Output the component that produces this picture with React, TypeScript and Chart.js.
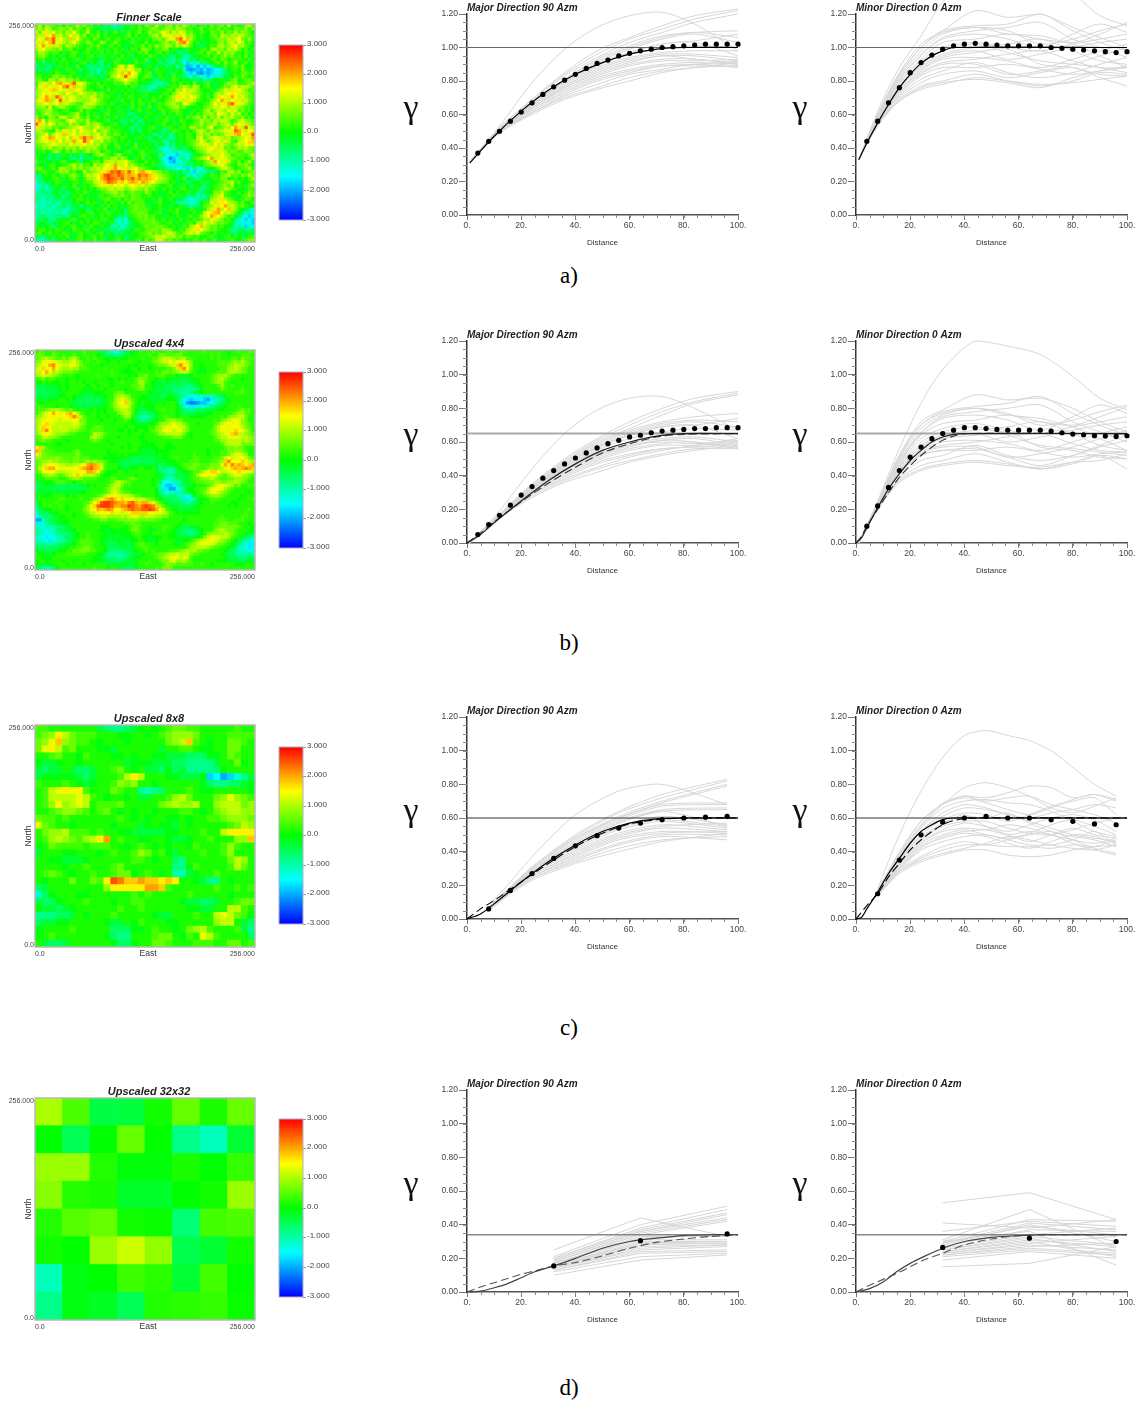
import React, { useEffect, useRef } from "react";
import { Chart, registerables } from "chart.js";
Chart.register(...registerables);

const FONT = '"Liberation Sans", Arial, sans-serif';
const SERIF = '"Liberation Serif", "Times New Roman", serif';

// Field values as one letter per cell: a=-3.00, m=0.00, y=+3.00, in steps of 0.25. Top row first.
const GRID_A_FINNER = [
"nqmponmn lomnqnom nkmlhjgf ihkjmlnk onmqnmop mpnqomnl mnlomnom qmnlmpqn",
"oqnrpmnp onqmonlp mjkihkig jhljmkom mnpomnqp nqpomnkm olmnmomn mlonnpmo",
"qnrtqsop nqpsomnq mlnkmjln kmjnlmok mpnoqsqo rpsqnomk nmlonmpm onqnponl",
"prqtsvqr opsqrnpl nmolnkmk ljmolnkm lnpqnsrt qtqsopnl mlknomqp oqprqonm",
"qsrvuxrs qpuqsomn lomkmnlm nlmknjml mknopnqs rvxsuqnk mklmnopo qprsonpm",
"rtqsuxsr qoqspnmp nlmpnkmo mkljnmkl nlmknopn oqvwtolm kjlmkopn qrpsqmnl",
"qsvrtqrp nqponmkm nmomkmnl mkjlkmmo lnmpnoqp nqprqnlj iklnmpqo prspqnml",
"prsqponq mnolmkln mlnmjmln kmjlnmkp onlnmopk mjkimlkl mnlpqopn qpromnkm",
"nqpomnnl mkmomlmn kmjnlmkn mlkmjlnm olkmnkmj ljhjikjm nlonmqnp opnmlnmk",
"mopnlmkm jlmnkjlm nkmimkmj lnkmilkm lnmjkmji hkjhgikl kmnlomnp nomnlokm",
"lmnkljmk nlkmnjkm jlkimljm nkmkjmlk njkmjkhi gjhegjhk mlkmnlon lmnmmlnk",
"jkhjkilm kmljkmnk jlihkjln mkljlnkm ijklhjig hjiecfge ihjlmnlo mnplmnkm",
"hkjihkjm lmkjnlkh ihjgkhlm qrosrmlk jmlijkhj kgihbceb dcegikjn lmnmolkm",
"khjhilmk jnmljhkj hifhjkmp rtqsropl mkjnlmki ljkfbabc bdbcdegh kmnlomkm",
"kljkmlnm lkmnkjlj hjgkimop rurvsrnl mnkjmlkj imkhfcdb acbcedfi kkmlnomn",
"mnkmlopn omnlmjkm ijkhjlpq sqxtsqlm onjlmkjl nkjigeig dfcegfhk jlnmomlm",
"nomlqpnq ropnolmk lmjkmnmo prsqpolm lkihjmkj nmljkjhi kfhiklmj knplmnom",
"mqrtpsuv qtuxrsqn mlnkmlkn mnqomnkl jkhgfhgl mknlmloj kmnlkjlnq opmmnoqp",
"nstqsrts vxtuqrpm lkmnlmkl mjmlnmjh igfgjikm nmoqpnqp lmnkjlmo nqsprqpn",
"oqrstuqs rtqtsrom nlkmjnlm kmlmjkim hgijklmn lqpsqrqo mlkmjnpr qtrsqomn",
"pqsrsrsq psrpqsqp oqnomlmk jlmkmlkj mlkjlmnl oqsrtqpo nlmkoqpr stsrqpom",
"orsvtqxu rqsrpoqp rqnomnlk mjlnmklm jkmlnlmo qrtsqsrp mlnkpqsr tvsqrpnm",
"qstvuqsx tqsrpqop qspnmlkm jnlkmlnk mlnmklno psrqtrqn mlmoqsvt qsrtqrom",
"pqrsqtsp qrponmpq rqonmlnk ljmknlmn kmljnmop qonsrpnl kmnpsqrt vxtsrpnm",
"opqnrmoq pnmlnoqp onlmkmlj mkljnlmk jnkmnlmo pqnomlkm lnoprqsr ptqpomnl",
"mnopqnml mnklmoln mlkmjnlk mjkiljnk mljkmnlm nomlkjml moqnprqp sqrnomnl",
"nmoqpnom lmnoqmln kmjlmnkl jmkhijlk jmkljnkm lnmkjmln mopqnsrq orpqmnlm",
"pmnlpomq ronpqnmo lmnkmjln kmiljhjk mlkjmlnj mkmlnmop nqmpornq pqonpmnk",
"tvsnqpon mqsropnq mnlkmnjl khjigkhi ljkmlmnk jlnmlkmn qopnqprq pmnqrpon",
"xtrpsqnp onqopmnq opqnlkmn kjiklhji kkljmnkl mjlnlmno qnopqnpq rnqsrqpn",
"tqrpqnom nopqrsqp oqrpnoml mkljhijk lmnjkimn lkmnlqpn onqsmnoq psvtqxrq",
"pqonmlqp rtqspsrq psnpqomn mkljikhj lmkljhij nmlkmlnq rpnqopqr srxvtqsr",
"opqsnqsr uqrsqtqr pqsoqnmo nlmkjlkm ljihjikg ikmlnmlp qoqnpnoq rtuvsrtx",
"nqstvusr qsptruxu vqsrpqnm lnmkljmk jiklhjig hkjlnmlq rnpqsrqp qnopqsrv",
"pqrsqtqs ptqvrsxu sqprnomn kmlmkjlk lmhjkhgj ikmlmnop sqnprsqt qnmqrstu",
"nopqrsrq qpsqrtsq rpqnomln mkmjlnkm ljkiljfi hkjlmnoq rtrpsqrp onprqstr",
"mnpoqnop nqopnqoq pqnmolkm njlkmnjl mkljgfeh gikhjlno pqrstqrn omnqpqon",
"kmnlmopn lompnmoq noplmnkj lkmnjlmn kmjihfde ghfhikln opsrqtrq npomnpon",
"ljklijhj mlhkjhik lnoqnmln qmlkjlmn mkljnhfe dcfgdhjl mopqrqsq pmnonmoq",
"mlkjhkij klihjgki jlmkonpq npolkmln jmlkheda ceghfimn pqsvqrsr ponmnlmp",
"njmkljkm njklmhkl mnolpqrp qrspnmkl nlmkjfec bdfghjkm lnpqvsrt qnmolnpm",
"mlkjmnlk mnoqnpmn lqoprsqv rqspqomn lkmjihed fgehihjm lnopqrsq nmlonpnk",
"nomkmnlq ponqopno qprqsrtv srtqrspo nmlkjihg fedgceid fhklmoqr pnlmnoqm",
"kmnmlknp opmnlkqn opqrtuxw yvuxusuv tsqpomnk jikgifce gfihjknm pqnplmno",
"jhkmlnkm nmopnkoq qrsuxywv xwuvutxv wutrqonm ljkjfgeh gjlnmkop qnompnqo",
"ghjlkmnj mlnomkmp pqsuwyxw vxuvxuwu vutsqpom ljknjkhg ikljnmop lmnkmlnq",
"fhikjlnm kjlmnkmn nqrtuxwv tusuvutv utsqponl mkljhjlk mjilkmno pqmnlkmn",
"efhgjkml jmlnkjml noqsrtqs rsqrstqr pqonmkmn lkjmlijk jhklmnop nqlmkmnp",
"eghfhikj hkljnlmk mlnpoqrp rqoprqpo qnomknlm jkmnljkm hijlmnoq pnmkljnm",
"ggiihjli khjlmknm kljmnopq nomnonnm pnlmkjln kmlkmjlh ijklpoqn mlknlmon",
"hhgghikj hijmlnkj lkmnlmno npnmonnl mnkljkml njmkhijf hgjnpqsn mkjlmnpo",
"igfhghji hkjlmnkm lkjmnokm nlnmonnm lkmjnlkm ljkhgefg hijpqrtq onlkmonl",
"hgfggigg jhikmlkn lmjkmlnm knlomnnn kljmnklk jhgfgefg kmnsqrts qpomnkln",
"fgfghfgh jgijkhkj mlkmjnlm kjlmnonn mjklmkl jlkmjigh iknoprts vqrpnomlk",
"ggghfghh gfhijklh jkmlnkjm lkimnonn nmlkmjkm lnjlkmjl kmprtvqs uqpmkjgf",
"hhfgghfh egikjlkm nlkmjnmk jlhmnnoo nlkmnkjl mnlkjlnk mqstuvsq rpnkjfge",
"ghjgghih jgjlkmnk mjlnkmlk iihjmnon omnlkjml kmjlmnkm prsvtsqo mnkjfecd",
"ihjkhgik jlmnjkln kmlmnjlh fgejkmnn onomlnkm jlnkmlnm nqprtqom nlhfecdc",
"jklihkjl mnkjlnkm lnmkjlmh egfhjlmn nnonmkmn lmkjmnlq psqrpnon mkgfdfec",
"mkjlmhjk mlmnlkmj nlkmlkgf hegijklm onnoonml mkjnmqrs uqpnomnl kjfhfcfe",
"lmnkjlnm kjlnmkmn lmjkhjhi ghijknml nnoonqpo mlnmpqrt sqpnomlk mhgijhgi",
"mnlmnkml nmkjmnlm jkmnkjlh jikkjlmn opnonpqr pnmoqrqs onmlnkml jihkjkik",
"jihjkmkm lnkjmnlk mnlmjkli mlhjklmm noprqsqp qnpmonmn klmnjklm nkmlijmn",
"hfgijhkl mkjlmnlm knlmjlkm nkjlkmnl omnqrpno mnmlmknm lnkmnlkj mnlkmnoo"
];

const GRID_B_UPSCALED_4 = [
"mnnmmnmm lmmmmmnm mmmkjhgf gijkllmm mmnmmmnn mmnnmmmm mnmmmmmm lmmnmmnn",
"nonmmonm nmmnmmnm mmlkjijh iikklmmm mnmmoonn noommmmm mmmnmnmm lmmmnnnm",
"nopqponn onpqommn mnmmllkl kllmmmmn mmnnpqqq popqnnmm mmmnmnmm mnnmonnn",
"oprrsrrq ppqrpomn mmnmmlmm lmmnmmlm mmoopqqs qsrsqomm mmmmmnnn nopoqonm",
"pqrsuvsr qqsrqonm mmmlmmmm mmmlmlmm mlmnoopq rtvsrpmm lmmmmnnn opqqponm",
"qrtrsusq ppqppnnn mmmmnmmm mmllmmlm mlmmmmnn oqtvsomm llmmmmnn ppqponmm",
"qqsuspqp ooonnmmm mmmmmmnm mllllmmm mmmnmoon opqqqnml klmmmnnn pqqpoomm",
"pqrqqpon mmnmlmmm mmnmmmnm mmmlmlnn ommnnnmm mlkkklmm mmmnoppq onmmmmmm",
"mnomnnmm mlmmlmmm mmmmmllm lmlmmnpo nmmlmmll kkkkkkll mmmnopqo nmmmlmmm",
"llmmmllm mlmmmmlm mlmmmmlm mnmmmnpp nmlkkjkk jkjjjkkl mmmnoppn mmmmmmmm",
"kkjkkkll mlmmmmml mmlmmmlm mmmmnnop mmlkkkjj jjjiiijk lmmmmnpn mnmmmmmm",
"jjjkkjkl mlmmmmlk lmmmlmmm mmlmmnoo mmkkjkjj iiiihhij kmmmmmon mmmmnmmm",
"jjjjjjkk lmmmmlkk klllmmmn oommmmmm mlkkkjjk jihhhijk lmmmmmmm mmnnnmmm",
"jkjjkkkl lmmlkkkj jkkklmmo pqpommml lkkkjjkl kjihgffg fhgghijl mmmmmmmm",
"kkkklklm mlmlkjjj jjjkkmmp qrqpnmll lkkkkkll lkhfedee fdcehgij lmmmmmmm",
"mllmmmmm mmkkjjjj jjjkkmnp rstqomlm llkkmlmm mkgecbbc ddefgijk lmmmmmmm",
"mnmmmmlm mmlkkjkj kkkklmnp qrrqnmkk lllmmmmm mljgfeeg fghiikkl mmmnmmmm",
"mnnoppqp onomlmmm lmlllmmo pqqpnlkj kllmmnmm mlkiihij ijjkkllm mmmnonnm",
"moqrsusr stusqnml mmlmlmmm opqqnkji ijjlmmmm mlkjjjjk kkllmmmm mnoppnnm",
"opqrsrsr sstvtqnm mmlmmlmm mnppmjhh giikmnnm mlmmmlll llmmmmnm oppqqomm",
"pqrssrrq rrrsroom mmmlmmml mmnmlkjh ijklmmop poommmmm mmmmnmop qrsrpomm",
"pqstrrqq qqqrrpom mmmmmmmm mmmmlkkk kllmoppq rqqonmml mmmmnoqr srsrponm",
"prtsrqqr qqqqqonm mnonmmmm mmlmmlll lmmopqrr srqqommm mmmmoqsr rssrqonm",
"pqtvsqqq qqpponnm nnnnmmmm llmlmlmm lmnoprsr qrrpommm mmmnoqrs rstsrqom",
"oqrsrqpp ponnmmmm nqppnmmm mmmlmmml mmmnppqq qqqomlmm mmmnopqr rtuqqpon",
"noqqppon mmmmmmmm pqpommmm lmmmmmll mmmmmnnn ooommlmm mmmmnpqq srsrqqpo",
"mnonnmmm mlmmmmmm nonmmlmm mmmmmmml lmmmmmmm mmmmmmmm mmmmnnpp qqqqpqpo",
"mmmmmmll mmmmmmmm mmmmmmlm mmmlmmml lllmmmll mmmmmmmm mmmmmmnp qqqqoooo",
"stpnmmmm mmmmmmmm mmmmmmmm mlmlmmll lkllmmll lmmmmmmm mmmmmmmn oopoommm",
"utonnnmm mmmnommm mmmmmlmm mmmmmmlk kkkllllm mmmmmmmm mmlmmmnn oopponmm",
"rqoonnnn nnnnonmm mmmmmlll mlmlllkk kkklmllm mmmmmmnm mmlmmmnn oqrrqpmm",
"ppoooopo nnnoonnn mmmmlkll llkkjjjk jjjkkllm mnmmmmnn mmmmnnoq sqrrsqon",
"noppqppo oonoonop opoonmll kkjjjijj jjjkkkll lmmmmnnn mmmnnopt vssstrqp",
"noqrssrq qppqqrsu vutqnmmm kjjjkkkk kkkkjjkk llmnnnoo nnnoooru svtutstu",
"nqstuusr rsrsstuv wutrnmmm lkkkllmm llmkijih iklmnoon nnopopqr stutuvut",
"nosrsrqq qrrrrssu utsomlll mmlmmmmm mmmkjhhg hjkllmnn oqsttsqq rrstsrrq",
"mmopqpon opqrtsqq qpomllmm mmmmmlmm mmmlkjih ikjkkmnq ssrsrpon pqrrqpon",
"lmmnnnnm mnopponn nnmmmmnn mmmnonmm mmlmkigg hjjkkmnn oppqponn ooppponm",
"kklllmnn nmmlmmnm mmmmmmnp qponmmmm mmlmjfff ghhkkmmn noooppoo ppqponmm",
"jjklkkjj jjjjjkkl mlmmmnpq qomnmmmm mmlmhfdd egijkklm mmnoqrsr qpnommnn",
"jkkkjjkj jkkkjjjk mmmmnoqq pnmmmmmm mmmlheec cfgiklmm nnprssrp onmmmmmm",
"kkkklkkk kkkkkllm mmmmnoqr ponnmmmm mmmlihfg gehikllm noqrsqpo nmmmmmlm",
"lmlllmmm mlmlmmmm mmnoqrrs rqqqpnnm mmmlkihi jhhgfhlm mnopppon mmmmlmmm",
"kmmmmmmn nmmmmnmm npqstuvt stsrsqrq ponmlkjk iiieefhk llmnnnmm mmmlmmmn",
"jlmmmmnm mmmmmmnn pstwxxwv uutvwutu utrpnmkj jjiihijk lmmnmmmm mllmmmmm",
"ilmmnmmn mlmmmmnp rtwxxxwu uvvxwvuw xwvtpnmk kkjjjjkl mmmmmmmm lmlmmmmm",
"hjkllmmm mlmmmmop rsutuvus stuvwvvw wxwusqnm lkkkkkkl mmmmmmmm mmmmmmnm",
"gijjkllm mmmlmmno qqrsrstr rqrstttt tsrrrqpn mlmlllll mmmmmmmm mmmmmnmm",
"fhiiikkl lmmlmmmn oppqqppp pqpqrrqp qqqppoom mmmmmmmm mmmmmmnm mmmmnnmm",
"ccgijjkl llmmmmmm mnnoonnn ooopopoo ooonnmmm mmmlmmmm mmmmmnnn mmnnnmmm",
"egghjjkk llmmmmmm mmmmmmmm mmnnonnm mmmmmmmm mmlmmmmm mmmmnnoo nnnmmmlm",
"hffhghii jkkmmmmm mmmlllmm mmlmnonm mlmmmnnm mlkjjkkl mmmmnooo ooonmmml",
"iggfggij jkklmmmm mmmlkkll lllmoonm mlkmmnmm lkjiiijk lmmmopqp oonmmmll",
"ihgffgih iijklmmn mmmmlkll klllmnnm llmmmmml lkjjihij lmoppppq ponmmlkk",
"hffeffgh ijjklmmn mmmllkkk kklllmnl lklllmml lkkkkkkl moqrrrqq pnmmkjih",
"ggffefgg hijkmnnn nmmlkkkk lkkkllmm lkklmmmm mlkllmnp qrrsrqpo nmljihhf",
"ihihhhii jkklmnnn nmmlkjjj kkkjlmnn mmmlmmmm lkkmnopq rrrrqoon mlkihfee",
"jijijjjk klmmnnoo nmmmljjj jkkjkmmn nmmmmmmm mmmmnppq qqponnmm lkjggfef",
"lkkjjkkl lmmonooo nnmmljii iijjklmm nmnmmmmn nnopqpqo onnmmmml kjihggfg",
"mlkkklmm mnnnnnnm mmlljhhh hhijjkkl mmnnoopq qrqqqonn mmmmmmlk jjhhhhig",
"mmlllmmm mmmmmmmm mllkjiii hhijkllm mmmnopqr srqrqnmm mmmmmmml kjjiiijj",
"lmmlmmmm lmmlmmmm llkljjjj ijkkkkmm mnmmnooq rppqonmm mmmmmlll kkkkjkkk",
"lkkkkkmm mlmmmmlm mmmmmkkk kkkkjlmm nmmmmnpo onnnnnmm nmmlmmmm mmlllmmm",
"kjhhhjlm mmmmmmmm mnmmmlmm lkjjjlmm mmmnmooo mmmmmmmm mmmmmmmm mmmmmmmm"
];

const GRID_C_UPSCALED_8 = [
"nnmmmmmm mkjiijkl mlmnoonn mmmmmnmm",
"nopsqonn nmmmllmm lmnopppo mmmmnnnn",
"oprtponn mlmmmlmm mmmopqtn mlmmoonm",
"orsqnomm mllkmmmm mmkmmnnm llmmoomm",
"mmnommln mmmllmlm mllkkkjj jllmonmm",
"lkklmmlm mmmmmkll lkkkjjii iikmmolm",
"kjkkmkjj kmmnomlm kkjljkii iijlmmmm",
"klllllkj kmmmnqsq mmmllkkk lefdegik",
"nmmmnmlk lmmnpopm mlmmmmmm ljiijjkl",
"mnqrsrsn mmmonmmi hijmmmnm llmmmmml",
"mnqqqqrq nmlmmlmk kmmnpqom mmoprpon",
"mnpspqrq mnnnommm mmopqppq mmpqqqop",
"mmnoppon mnomlmlm mlmmmnnm lmopqqpp",
"onnmnmmm mmmmnmlm lmmllmlm mnnopppo",
"ronmmlmm mmmlmmmk lmllkmlm mmmmnoqp",
"moppqnnn mnmmllkk kkkllmmm nmmqssss",
"mnpqponp qsumnmml lmmlkklm mnmmmppt",
"lmonnnnm nnnmmlmn mlmlmmln mmmnpnmm",
"kmmmllmm mlmnmmnp omnlkmmm nmmnpmmm",
"mmllkkkl mmmmmmnn mlmmjimm mmmmoqpm",
"mmmmlmmn mmmnommm mmmmiiln mmmmnqom",
"mnonmlmm nmmnoolm nmlmhhkl mmnmmmmm",
"mlmmmomm onswvttu ttstsmml kiimlmmm",
"jkmmmmmm mmpsssss uutnmmmm mmnmmnmn",
"gjlmmmll mmmmmmnm nmmmmmnm mmmmlmmm",
"kjjlmmmn mmmlmmnn mmmmmlkk jjkmmnoo",
"lkkjklmm mmmmnmmn mmmmmmll kkmmqqnm",
"iiijjkml mmmnmmmm mlkkmmmn mmqrqonl",
"jkkllmmm mmlkkmln mmmllmmm mmpqqmkj",
"lmmmmnmm mmmjjjll mnmmlmop qnmmmnki",
"lmnmmmmm mmljiimm mnoomlnm rqnmmmmj",
"mkjjkmmm mmmljjlm moonmmmn nnmmoomn"
];

const GRID_D_UPSCALED_32 = [
[1.0, 0.45, -0.4, -0.35, 0.1, 0.6, 0.15, 0.6],
[0, -0.5, 0, 0.6, 0, -0.8, -1.1, -0.3],
[0.9, 0.9, 0.2, -0.05, -0.05, 0.15, 0, 0.3],
[0.8, 0.2, 0.15, -0.25, -0.25, 0, 0.1, 0.9],
[0.2, 0.5, 0.6, 0.1, 0.05, -0.7, 0.4, 0.45],
[0.1, 0, 0.9, 1.2, 0.85, -0.45, -0.3, 0.1],
[-1.1, -0.1, 0, 0.35, 0.25, -0.3, 0.4, 0],
[-0.8, -0.1, -0.2, -0.5, 0.2, 0.25, 0.3, 0.05],
];

const COLORBAR_TICKS = [-3, -2, -1, 0, 1, 2, 3];
const COLORBAR_LABELS = ["-3.000", "-2.000", "-1.000", "0.0", "1.000", "2.000", "3.000"];
const COLORBAR_RANGE = [-3, 3];
const COLOR_STOPS = [-3, -1.5, 0, 1.5, 3];
const MAP_AXIS_LABELS = ["0.0", "256.000"];

const LAGS_MAJOR = [1, 12, 24, 36, 48, 60, 72, 84, 100];
const LAGS_MINOR = [1, 8, 16, 24, 32, 44, 56, 68, 80, 90, 100];
const LAGS_C_MAJOR = [8, 16, 24, 40, 56, 72, 96];
const LAGS_C_MINOR = [8, 16, 24, 32, 40, 48, 56, 64, 72, 80, 88, 96];
const LAGS_D = [32, 64, 96];

const A_MAJOR_REALIZATIONS = [
[.32,.53,.79,.99,1.12,1.19,1.21,1.14,.98],[.32,.52,.69,.85,.98,1.06,1.13,1.19,1.23],[.32,.52,.69,.84,.96,1.05,1.11,1.17,1.22],
[.32,.52,.68,.83,.94,1.03,1.09,1.15,1.20],[.32,.51,.67,.81,.93,1.01,1.07,1.09,1.10],[.32,.51,.67,.81,.92,1.00,1.06,1.09,1.06],
[.32,.51,.66,.80,.91,.99,1.05,1.08,1.03],[.32,.51,.66,.79,.90,.97,1.02,1.04,1.08],[.32,.51,.66,.79,.89,.96,.99,1.01,1.00],
[.32,.50,.65,.78,.88,.94,.97,.98,.98],[.32,.50,.65,.77,.87,.93,.96,.96,.94],[.32,.50,.65,.77,.86,.92,.95,.95,.92],
[.32,.50,.64,.76,.85,.91,.95,.93,.91],[.32,.50,.64,.76,.84,.90,.93,.93,.90],[.32,.50,.64,.75,.83,.89,.92,.92,.93],
[.32,.50,.63,.74,.82,.87,.90,.91,.90],[.32,.49,.63,.73,.81,.86,.89,.89,.89],[.32,.49,.62,.72,.80,.85,.89,.90,.92],
[.32,.49,.61,.71,.78,.84,.87,.90,.88],[.32,.49,.61,.70,.76,.82,.86,.88,.91],[.32,.49,.60,.69,.75,.80,.85,.88,.89],
[.32,.50,.66,.80,.90,.97,1.02,1.03,.95],
];
const A_MINOR_REALIZATIONS = [
[.33,.62,.88,1.07,1.27,1.45,1.5,1.5,1.33,1.19,1.13],[.33,.60,.85,1.02,1.10,1.22,1.18,1.20,1.12,1.06,1.00],[.33,.60,.84,1.00,1.10,1.13,1.14,1.20,1.10,1.03,.98],
[.33,.59,.83,1.00,1.09,1.12,1.10,1.02,1.05,1.10,1.14],[.33,.59,.82,.98,1.08,1.12,1.08,1.07,1.03,1.08,1.15],[.33,.58,.81,.96,1.06,1.10,1.12,1.15,1.05,1.00,.94],
[.33,.58,.80,.95,1.05,1.08,1.05,1.00,1.08,1.14,1.09],[.33,.58,.79,.93,1.03,1.05,1.08,1.05,1.02,.95,.88],[.33,.57,.78,.92,1.00,1.03,1.00,.98,1.02,1.05,1.08],
[.33,.57,.77,.90,.98,1.02,.97,.92,.90,.88,.85],[.33,.56,.76,.89,.96,1.00,1.02,1.05,.98,.92,.90],[.33,.56,.76,.88,.95,.98,.93,.96,1.00,1.03,1.05],
[.33,.56,.75,.87,.94,.97,.99,.90,.88,.84,.83],[.33,.55,.74,.86,.93,.94,.92,.88,.93,.98,1.02],[.33,.55,.74,.85,.91,.93,.96,.98,.92,.88,.88],
[.33,.55,.73,.84,.90,.90,.84,.86,.90,.95,1.00],[.33,.55,.72,.83,.88,.88,.90,.87,.84,.86,.88],[.33,.54,.71,.81,.86,.91,.85,.82,.85,.90,.94],
[.33,.54,.70,.79,.84,.86,.82,.85,.88,.82,.77],[.33,.54,.69,.77,.80,.84,.80,.77,.80,.85,.84],[.33,.54,.68,.76,.79,.81,.79,.76,.82,.86,.89],
[.33,.53,.68,.75,.78,.82,.80,.78,.79,.81,.83],
];
const B_MAJOR_REALIZATIONS = [
[0,.19,.44,.65,.79,.86,.87,.80,.67],[0,.17,.35,.50,.62,.72,.80,.86,.90],[0,.17,.35,.49,.61,.70,.78,.84,.89],[0,.17,.34,.48,.60,.68,.76,.83,.88],
[0,.17,.34,.48,.59,.67,.72,.75,.77],[0,.17,.33,.47,.58,.66,.71,.73,.72],[0,.17,.33,.46,.57,.65,.70,.72,.69],[0,.17,.33,.46,.56,.64,.69,.70,.74],
[0,.16,.32,.45,.55,.62,.66,.68,.67],[0,.16,.32,.45,.54,.60,.64,.65,.65],[0,.16,.32,.44,.53,.59,.62,.63,.60],[0,.16,.31,.44,.52,.58,.61,.62,.58],
[0,.16,.31,.43,.51,.57,.61,.60,.57],[0,.16,.31,.42,.50,.56,.59,.60,.56],[0,.16,.30,.41,.49,.55,.58,.58,.60],[0,.15,.30,.40,.48,.53,.56,.57,.57],
[0,.15,.29,.39,.47,.52,.56,.57,.59],[0,.15,.29,.38,.45,.51,.55,.58,.62],[0,.15,.28,.37,.44,.49,.53,.56,.56],[0,.15,.27,.36,.42,.48,.52,.55,.58],
[0,.15,.33,.47,.57,.64,.69,.70,.62],[0,.15,.31,.43,.52,.58,.60,.59,.61],
];
const B_MINOR_REALIZATIONS = [
[0,.25,.56,.83,1.03,1.20,1.17,1.12,.99,.86,.79],[0,.24,.52,.72,.79,.88,.85,.86,.80,.72,.66],[0,.24,.52,.70,.78,.81,.83,.87,.77,.70,.64],
[0,.23,.51,.70,.77,.80,.77,.70,.73,.78,.82],[0,.23,.50,.68,.76,.80,.76,.74,.70,.75,.81],[0,.23,.49,.66,.75,.78,.80,.82,.72,.66,.60],
[0,.23,.48,.65,.74,.76,.73,.67,.75,.82,.77],[0,.22,.47,.64,.71,.73,.76,.72,.69,.62,.55],[0,.22,.46,.62,.68,.71,.67,.65,.69,.72,.75],
[0,.22,.45,.60,.66,.69,.64,.58,.56,.54,.52],[0,.22,.45,.58,.64,.67,.69,.72,.65,.58,.55],[0,.21,.44,.57,.63,.65,.60,.63,.67,.70,.72],
[0,.21,.43,.56,.62,.64,.66,.57,.55,.51,.50],[0,.21,.43,.55,.60,.61,.59,.55,.60,.65,.69],[0,.21,.42,.54,.58,.60,.63,.65,.59,.55,.54],
[0,.21,.41,.53,.57,.57,.51,.53,.57,.62,.67],[0,.21,.41,.52,.55,.55,.57,.54,.51,.53,.54],[0,.20,.39,.49,.52,.58,.52,.49,.52,.57,.61],
[0,.20,.38,.46,.49,.53,.48,.44,.48,.52,.44],[0,.20,.37,.44,.47,.49,.47,.44,.47,.52,.50],[0,.20,.36,.43,.46,.48,.46,.45,.48,.49,.53],
[0,.21,.42,.52,.55,.56,.51,.46,.52,.58,.64],
];
const C_MAJOR_REALIZATIONS = [
[.08,.22,.37,.62,.76,.80,.68],[.07,.19,.31,.50,.64,.74,.83],[.07,.19,.31,.49,.63,.72,.82],[.07,.19,.30,.48,.61,.70,.80],[.07,.18,.30,.48,.60,.69,.79],
[.07,.18,.30,.47,.60,.68,.69],[.07,.18,.29,.46,.59,.67,.68],[.07,.18,.29,.45,.58,.65,.66],[.06,.18,.29,.44,.57,.64,.65],[.06,.18,.28,.43,.55,.61,.56],
[.06,.17,.28,.43,.54,.59,.55],[.06,.17,.28,.42,.53,.58,.54],[.06,.17,.27,.41,.51,.56,.53],[.06,.17,.27,.40,.50,.55,.57],[.06,.17,.26,.39,.49,.54,.52],
[.06,.16,.26,.38,.48,.52,.51],[.06,.16,.25,.37,.47,.51,.52],[.06,.16,.25,.36,.45,.50,.50],[.06,.16,.24,.35,.44,.49,.47],[.05,.15,.24,.34,.42,.47,.49],
[.05,.15,.23,.33,.40,.46,.51],[.06,.18,.29,.44,.57,.64,.55],
];
const C_MINOR_REALIZATIONS = [
[.18,.50,.76,.96,1.09,1.12,1.09,1.06,1.00,.90,.80,.73],[.17,.40,.58,.69,.73,.72,.75,.79,.78,.72,.74,.71],[.17,.39,.58,.68,.78,.81,.78,.73,.66,.63,.67,.72],
[.17,.38,.56,.68,.73,.70,.72,.73,.68,.65,.62,.57],[.16,.38,.55,.68,.72,.69,.65,.62,.66,.71,.74,.70],[.16,.37,.54,.66,.70,.71,.69,.68,.64,.58,.52,.49],
[.16,.36,.52,.63,.68,.66,.62,.60,.63,.65,.68,.66],[.16,.36,.52,.61,.66,.65,.62,.58,.54,.50,.48,.46],[.16,.35,.50,.59,.63,.62,.58,.62,.67,.70,.72,.62],
[.16,.34,.48,.57,.61,.60,.63,.57,.52,.49,.47,.43],[.15,.33,.47,.55,.58,.58,.54,.51,.50,.53,.57,.60],[.15,.32,.46,.53,.57,.55,.52,.56,.60,.62,.59,.52],
[.15,.32,.45,.52,.54,.53,.56,.54,.50,.47,.45,.48],[.15,.31,.44,.50,.53,.50,.48,.51,.56,.59,.55,.50],[.15,.30,.43,.48,.51,.49,.45,.42,.46,.50,.49,.45],
[.15,.29,.41,.46,.49,.50,.47,.44,.44,.47,.52,.44],[.14,.29,.37,.43,.46,.44,.47,.50,.52,.47,.42,.39],[.14,.28,.36,.41,.44,.44,.43,.43,.42,.44,.43,.44],
[.14,.27,.34,.38,.41,.41,.38,.37,.38,.41,.43,.47],[.14,.28,.35,.39,.42,.45,.49,.47,.44,.42,.41,.44],[.15,.30,.42,.49,.52,.53,.50,.52,.50,.45,.41,.38],
[.16,.35,.49,.56,.62,.55,.50,.46,.50,.54,.50,.48],
];
const D_MAJOR_REALIZATIONS = [
[.25,.44,.33],[.21,.40,.51],[.20,.38,.49],[.20,.37,.47],[.19,.36,.46],[.19,.36,.44],[.18,.35,.43],[.18,.34,.42],[.17,.33,.33],[.17,.32,.34],[.17,.31,.31],
[.16,.30,.30],[.16,.29,.29],[.15,.29,.30],[.15,.28,.29],[.15,.27,.28],[.14,.26,.28],[.14,.25,.27],[.13,.24,.25],[.13,.23,.24],[.12,.21,.23],[.10,.19,.22],
];
const D_MINOR_REALIZATIONS = [
[.53,.59,.43],[.41,.38,.43],[.36,.42,.39],[.31,.49,.26],[.30,.43,.42],[.29,.41,.37],[.29,.39,.34],[.28,.40,.30],[.27,.37,.36],[.30,.36,.16],[.26,.34,.38],
[.25,.33,.28],[.25,.32,.24],[.24,.31,.27],[.24,.30,.21],[.23,.29,.33],[.23,.28,.25],[.22,.27,.29],[.22,.26,.23],[.21,.25,.22],[.19,.24,.20],[.15,.17,.27],
];

const PTS_4 = [4, 8, 12, 16, 20, 24, 28, 32, 36, 40, 44, 48, 52, 56, 60, 64, 68, 72, 76, 80, 84, 88, 92, 96, 100];
const PTS_8 = [8, 16, 24, 32, 40, 48, 56, 64, 72, 80, 88, 96];
const A_MAJOR_POINTS = [.37,.44,.50,.56,.615,.67,.72,.765,.805,.84,.875,.905,.925,.95,.965,.98,.99,1.0,1.005,1.01,1.015,1.02,1.02,1.02,1.02];
const A_MINOR_POINTS = [.44,.56,.67,.76,.85,.91,.955,.99,1.01,1.02,1.025,1.02,1.015,1.01,1.01,1.01,1.01,1.0,.995,.99,.985,.98,.975,.97,.975];
const B_MAJOR_POINTS = [.05,.11,.165,.225,.285,.335,.385,.43,.47,.505,.535,.565,.59,.61,.63,.64,.655,.665,.67,.675,.68,.68,.685,.685,.685];
const B_MINOR_POINTS = [.10,.22,.33,.43,.51,.57,.62,.65,.67,.685,.685,.68,.675,.67,.67,.67,.67,.665,.655,.647,.643,.637,.635,.633,.637];
const C_MAJOR_POINTS = [.06,.17,.27,.36,.435,.495,.54,.57,.59,.60,.605,.61];
const C_MINOR_POINTS = [.15,.35,.50,.575,.60,.61,.60,.60,.59,.58,.565,.56];
const D_MAJOR_POINTS = [.155,.305,.345];
const D_MINOR_POINTS = [.265,.32,.30];

const MODEL_LAGS_A = [1, 10, 20, 30, 40, 50, 60, 70, 80, 100];
const A_MAJOR_MODEL = [.31,.47,.62,.745,.84,.91,.96,.99,1,1];
const MODEL_LAGS_A_MINOR = [1, 4, 8, 12, 16, 20, 24, 28, 32, 36, 100];
const A_MINOR_MODEL = [.33,.43,.55,.66,.76,.84,.905,.95,.98,1,1];
const MODEL_LAGS_B = [0, 5, 10, 20, 30, 40, 50, 60, 70, 80, 100];
const B_MAJOR_MODEL = [0,.05,.12,.25,.37,.47,.55,.60,.635,.65,.65];
const B_MAJOR_DASHED = [0,.06,.125,.245,.355,.45,.535,.59,.63,.645,.65];
const MODEL_LAGS_B_MINOR = [0, 2, 4, 8, 12, 16, 20, 24, 28, 32, 36, 40, 100];
const B_MINOR_MODEL = [0,.03,.09,.21,.32,.41,.49,.55,.60,.63,.645,.65,.65];
const B_MINOR_DASHED = [0,.04,.10,.20,.30,.39,.46,.52,.57,.61,.635,.65,.65];
const C_MAJOR_MODEL = [0,.03,.09,.22,.34,.44,.52,.57,.595,.6,.6];
const C_MAJOR_DASHED = [0,.06,.11,.22,.33,.43,.51,.565,.59,.6,.6];
const MODEL_LAGS_C_MINOR = [0, 2, 4, 8, 12, 16, 20, 24, 28, 32, 36, 44, 100];
const C_MINOR_MODEL = [0,.01,.06,.16,.27,.36,.45,.52,.56,.59,.6,.6,.6];
const C_MINOR_DASHED = [0,.04,.08,.15,.25,.33,.41,.47,.52,.56,.585,.6,.6];
const MODEL_LAGS_D = [0, 5, 10, 15, 20, 25, 32, 40, 50, 60, 70, 80, 90, 100];
const D_MAJOR_MODEL = [0,.005,.025,.05,.085,.12,.155,.20,.26,.30,.32,.335,.34,.34];
const D_MAJOR_DASHED = [0,.03,.055,.08,.105,.125,.155,.175,.215,.26,.295,.315,.33,.34];
const D_MINOR_MODEL = [0,.02,.06,.12,.17,.21,.26,.30,.325,.335,.34,.34,.34,.34];
const D_MINOR_DASHED = [0,.04,.075,.11,.15,.19,.23,.28,.315,.335,.34,.34,.34,.34];

const SILL_X = [0, 100];
const colorOf = (v: number) => `hsl(${Math.max(0, Math.min(240, 120 - v * 40))},100%,50%)`;
const decode = (gain: number, base: number) => (row: string) =>
  Array.from(row.replace(/ /g, "")).map((c) => (c.charCodeAt(0) - 109) * 0.25 * gain + base);
const pairs = (xs: number[], ys: number[]) => xs.map((x, i) => ({ x, y: ys[i] }));

const overlay = {
  id: "overlay",
  afterDatasetsDraw(chart: any, _a: any, o: any) {
    const { ctx, chartArea: c } = chart;
    ctx.save();
    if (o.kind === "map") {
      ctx.strokeStyle = "#b8b8b8";
      ctx.lineWidth = 1.5;
      ctx.strokeRect(c.left, c.top, c.right - c.left, c.bottom - c.top);
      ctx.fillStyle = "#222";
      ctx.textAlign = "center";
      ctx.textBaseline = "middle";
      ctx.font = `bold italic 11px ${FONT}`;
      ctx.fillText(o.title, (c.left + c.right) / 2 + 4, c.top - 6.5);
      ctx.fillStyle = "#333";
      ctx.font = `8.5px ${FONT}`;
      ctx.fillText("East", (c.left + c.right) / 2 + 3, c.bottom + 7);
      ctx.translate(c.left - 6, (c.top + c.bottom) / 2);
      ctx.rotate(-Math.PI / 2);
      ctx.fillText("North", 0, 0);
    }
    if (o.kind === "vario") {
      ctx.fillStyle = "#222";
      ctx.textAlign = "left";
      ctx.textBaseline = "middle";
      ctx.font = `bold italic 10px ${FONT}`;
      ctx.fillText(o.title, c.left, c.top - 5.5);
      ctx.fillStyle = "#333";
      ctx.textAlign = "center";
      ctx.font = `8px ${FONT}`;
      ctx.fillText("Distance", (c.left + c.right) / 2, c.bottom + 28);
      const sx = chart.scales.x, sy = chart.scales.y;
      ctx.strokeStyle = "#888";
      ctx.lineWidth = 1;
      ctx.beginPath();
      for (let v = 5; v < 120; v += 5) {
        const yy = Math.round(sy.getPixelForValue(v / 100)) + 0.5;
        ctx.moveTo(c.left - 4, yy);
        ctx.lineTo(c.left, yy);
      }
      for (let v = 5; v < 100; v += 5) {
        const xx = Math.round(sx.getPixelForValue(v)) + 0.5;
        ctx.moveTo(xx, c.bottom);
        ctx.lineTo(xx, c.bottom + 3);
      }
      ctx.stroke();
    }
    ctx.restore();
  },
};

const CANVAS_BOX = (left: number, top: number, w: number, h: number, blur = 0): React.CSSProperties => ({
  position: "absolute", left, top, width: w, height: h, filter: blur ? `blur(${blur}px)` : undefined,
});

function MapPanel({ top, bottom, title, rows, blur }: { top: number; bottom: number; title: string; rows: number[][]; blur: number }) {
  const ref = useRef<HTMLCanvasElement>(null);
  useEffect(() => {
    const n = rows.length;
    const cols = n;
    const labels = Array.from({ length: cols }, (_, i) => i);
    const datasets = [...rows].reverse().map((row) => ({
      data: labels.map(() => 256 / n),
      backgroundColor: labels.map((i) => colorOf(row[Math.floor((i * row.length) / cols)] ?? 0)),
      barPercentage: 1,
      categoryPercentage: 1,
      borderWidth: 0,
    }));
    const chart = new Chart(ref.current!, {
      type: "bar",
      data: { labels, datasets },
      plugins: [overlay],
      options: {
        animation: false, responsive: false, events: [],
        layout: { padding: { top: 24, right: 15, left: 0, bottom: 0 } },
        plugins: { legend: { display: false }, tooltip: { enabled: false }, overlay: { kind: "map", title } } as any,
        scales: {
          x: { stacked: true, display: false },
          xl: {
            type: "linear", position: "bottom", min: 0, max: 256, offset: false,
            grid: { display: false, drawTicks: false, offset: false }, border: { display: false },
            afterBuildTicks: (s: any) => { s.ticks = [{ value: 0 }, { value: 256 }]; },
            afterFit: (s: any) => { s.height = 14; },
            ticks: { autoSkip: false, maxRotation: 0, align: "inner", padding: 3, color: "#444", font: { size: 7, family: FONT },
              callback: (v: any) => MAP_AXIS_LABELS[v === 0 ? 0 : 1] },
          } as any,
          y: {
            stacked: true, min: 0, max: 256, position: "left",
            grid: { display: false, drawTicks: false }, border: { display: false },
            afterBuildTicks: (s: any) => { s.ticks = [{ value: 2.5 }, { value: 253 }]; },
            afterFit: (s: any) => { s.width = 35; },
            ticks: { autoSkip: false, padding: 1, color: "#444", font: { size: 7, family: FONT },
              callback: (v: any) => MAP_AXIS_LABELS[v < 100 ? 0 : 1] },
          },
        },
      },
    });
    return () => chart.destroy();
  }, []);
  return <canvas ref={ref} width={270} height={bottom - top + 38} style={CANVAS_BOX(0, top - 24, 270, bottom - top + 38, blur)} />;
}

function ColorBar({ top, bottom, blur }: { top: number; bottom: number; blur: number }) {
  const ref = useRef<HTMLCanvasElement>(null);
  useEffect(() => {
    const chart = new Chart(ref.current!, {
      type: "bar",
      data: {
        labels: ["scale"],
        datasets: [{
          data: [COLORBAR_RANGE as any],
          barPercentage: 1, categoryPercentage: 1,
          borderWidth: 0,
          backgroundColor: (ctx: any) => {
            const a = ctx.chart.chartArea;
            if (!a) return "#0f0";
            const g = ctx.chart.ctx.createLinearGradient(0, a.bottom, 0, a.top);
            COLOR_STOPS.forEach((v) => g.addColorStop((v + 3) / 6, colorOf(v)));
            return g;
          },
        }],
      },
      plugins: [{
        id: "frame",
        afterDatasetsDraw(c: any) {
          const a = c.chartArea;
          c.ctx.save();
          c.ctx.strokeStyle = "#b0b0c8";
          c.ctx.lineWidth = 1;
          c.ctx.strokeRect(a.left, a.top, a.right - a.left, a.bottom - a.top);
          c.ctx.restore();
        },
      }],
      options: {
        animation: false, responsive: false, events: [],
        layout: { padding: { top: 6, bottom: 6, left: 9, right: 0 } },
        plugins: { legend: { display: false }, tooltip: { enabled: false } },
        scales: {
          x: { display: false },
          y: {
            position: "right", min: -3, max: 3,
            grid: { display: true, drawOnChartArea: false, tickLength: 3, color: "#999" }, border: { display: false },
            afterBuildTicks: (s: any) => { s.ticks = COLORBAR_TICKS.map((value) => ({ value })); },
            afterFit: (s: any) => { s.width = 42; },
            ticks: { padding: 1, color: "#444", autoSkip: false, labelOffset: -1.5, font: { size: 8, family: FONT },
              callback: (v: any) => COLORBAR_LABELS[COLORBAR_TICKS.indexOf(v)] },
          },
        },
      },
    });
    return () => chart.destroy();
  }, []);
  return <canvas ref={ref} width={75} height={bottom - top + 12} style={CANVAS_BOX(270, top - 6, 75, bottom - top + 12, blur)} />;
}

type VarioProps = {
  left: number; top: number; bottom: number; right: number; title: string;
  lags: number[]; curves: number[][]; tension: number;
  ptsX: number[]; pts: number[];
  modelX: number[]; model: number[]; dashed?: number[];
  sill: number; sillColor: string; sillWidth: number; modelColor: string; dashColor: string;
};

function Variogram(p: VarioProps) {
  const ref = useRef<HTMLCanvasElement>(null);
  const padTop = p.top < 20 ? p.top : 13;
  const w = p.right + 11 - p.left;
  const h = p.bottom - p.top + padTop + 36;
  useEffect(() => {
    const datasets: any[] = [
      { data: pairs(p.ptsX, p.pts), showLine: false, pointRadius: 2.6, pointBackgroundColor: "#000", pointBorderWidth: 0, clip: false },
      { data: pairs(p.modelX, p.model), borderColor: p.modelColor, borderWidth: 1.2, pointRadius: 0, tension: 0.3, clip: false },
    ];
    if (p.dashed) datasets.push({ data: pairs(p.modelX, p.dashed), borderColor: p.dashColor, borderWidth: 1.1, borderDash: [8, 4], pointRadius: 0, tension: 0.3, clip: false });
    datasets.push({ data: SILL_X.map((x) => ({ x, y: p.sill })), borderColor: p.sillColor, borderWidth: p.sillWidth, pointRadius: 0, clip: false });
    p.curves.forEach((c) => datasets.push({ data: pairs(p.lags, c), borderColor: "#d6d6d6", borderWidth: 1, pointRadius: 0, tension: p.tension, clip: false }));
    const chart = new Chart(ref.current!, {
      type: "line",
      data: { datasets },
      plugins: [overlay],
      options: {
        animation: false, responsive: false, events: [],
        layout: { padding: { top: padTop, right: 11, left: 0, bottom: 0 } },
        plugins: { legend: { display: false }, tooltip: { enabled: false }, overlay: { kind: "vario", title: p.title } } as any,
        scales: {
          x: {
            type: "linear", min: 0, max: 100,
            grid: { display: true, drawOnChartArea: false, tickLength: 5, color: "#777" },
            border: { color: "#555", width: 1.5 },
            afterFit: (s: any) => { s.height = 36; },
            ticks: { stepSize: 20, padding: 1, maxRotation: 0, color: "#444", font: { size: 8.5, family: FONT }, callback: (v: any) => `${v}.` },
          },
          y: {
            type: "linear", min: 0, max: 1.2,
            grid: { display: true, drawOnChartArea: false, tickLength: 8, color: "#777" },
            border: { color: "#333", width: 1.5 },
            afterFit: (s: any) => { s.width = 67; },
            ticks: { stepSize: 0.2, padding: 1, color: "#444", font: { size: 8.5, family: FONT }, callback: (v: any) => Number(v).toFixed(2) },
          },
        },
      },
    });
    return () => chart.destroy();
  }, []);
  return <canvas ref={ref} width={w} height={h} style={CANVAS_BOX(p.left, p.top - padTop, w, h)} />;
}

const MAJOR_LEFT = 400, MAJOR_RIGHT = 738, MINOR_LEFT = 789, MINOR_RIGHT = 1127;
const MAJOR_TITLE = "Major Direction 90 Azm", MINOR_TITLE = "Minor Direction 0 Azm";

const ROWS = [
  { top: 14, bottom: 215, mapTop: 24, mapBottom: 242, mapTitle: "Finner Scale", rows: GRID_A_FINNER.map(decode(0.8, 0.25)), blur: 0.5, barTop: 45, barBottom: 220,
    caption: "a)", capY: 276, gammaY: 107, sill: 1, sillColor: "#666", sillWidth: 1, modelColor: "#000", dashColor: "#000",
    maj: { lags: LAGS_MAJOR, curves: A_MAJOR_REALIZATIONS, ptsX: PTS_4, pts: A_MAJOR_POINTS, modelX: MODEL_LAGS_A, model: A_MAJOR_MODEL },
    min: { lags: LAGS_MINOR, curves: A_MINOR_REALIZATIONS, ptsX: PTS_4, pts: A_MINOR_POINTS, modelX: MODEL_LAGS_A_MINOR, model: A_MINOR_MODEL },
    tension: 0.3 },
  { top: 341, bottom: 543, mapTop: 350, mapBottom: 570, mapTitle: "Upscaled 4x4", rows: GRID_B_UPSCALED_4.map(decode(0.9, 0.2)), blur: 0.7, barTop: 372, barBottom: 548,
    caption: "b)", capY: 643, gammaY: 434, sill: 0.65, sillColor: "#aaa", sillWidth: 2, modelColor: "#222", dashColor: "#333",
    maj: { lags: LAGS_MAJOR, curves: B_MAJOR_REALIZATIONS, ptsX: PTS_4, pts: B_MAJOR_POINTS, modelX: MODEL_LAGS_B, model: B_MAJOR_MODEL, dashed: B_MAJOR_DASHED },
    min: { lags: LAGS_MINOR, curves: B_MINOR_REALIZATIONS, ptsX: PTS_4, pts: B_MINOR_POINTS, modelX: MODEL_LAGS_B_MINOR, model: B_MINOR_MODEL, dashed: B_MINOR_DASHED },
    tension: 0.3 },
  { top: 717, bottom: 919, mapTop: 725, mapBottom: 947, mapTitle: "Upscaled 8x8", rows: GRID_C_UPSCALED_8.map(decode(0.95, 0.15)), blur: 0.7, barTop: 747, barBottom: 924,
    caption: "c)", capY: 1028, gammaY: 810, sill: 0.6, sillColor: "#333", sillWidth: 1, modelColor: "#000", dashColor: "#000",
    maj: { lags: LAGS_C_MAJOR, curves: C_MAJOR_REALIZATIONS, ptsX: PTS_8, pts: C_MAJOR_POINTS, modelX: MODEL_LAGS_B, model: C_MAJOR_MODEL, dashed: C_MAJOR_DASHED },
    min: { lags: LAGS_C_MINOR, curves: C_MINOR_REALIZATIONS, ptsX: PTS_8, pts: C_MINOR_POINTS, modelX: MODEL_LAGS_C_MINOR, model: C_MINOR_MODEL, dashed: C_MINOR_DASHED },
    tension: 0.25 },
  { top: 1090, bottom: 1292, mapTop: 1098, mapBottom: 1320, mapTitle: "Upscaled 32x32", rows: GRID_D_UPSCALED_32, blur: 0.5, barTop: 1119, barBottom: 1297,
    caption: "d)", capY: 1388, gammaY: 1183, sill: 0.34, sillColor: "#888", sillWidth: 1.5, modelColor: "#444", dashColor: "#555",
    maj: { lags: LAGS_D, curves: D_MAJOR_REALIZATIONS, ptsX: LAGS_D, pts: D_MAJOR_POINTS, modelX: MODEL_LAGS_D, model: D_MAJOR_MODEL, dashed: D_MAJOR_DASHED },
    min: { lags: LAGS_D, curves: D_MINOR_REALIZATIONS, ptsX: LAGS_D, pts: D_MINOR_POINTS, modelX: MODEL_LAGS_D, model: D_MINOR_MODEL, dashed: D_MINOR_DASHED },
    tension: 0 },
];

export default function App() {
  return (
    <div style={{ position: "absolute", left: 0, top: 0, width: 1138, height: 1403, background: "#fff", overflow: "hidden" }}>
      {ROWS.map((r) => (
        <React.Fragment key={r.caption}>
          <MapPanel top={r.mapTop} bottom={r.mapBottom} title={r.mapTitle} rows={r.rows} blur={r.blur} />
          <ColorBar top={r.barTop} bottom={r.barBottom} blur={0.3} />
          <Variogram left={MAJOR_LEFT} right={MAJOR_RIGHT} top={r.top} bottom={r.bottom} title={MAJOR_TITLE} tension={r.tension}
            sill={r.sill} sillColor={r.sillColor} sillWidth={r.sillWidth} modelColor={r.modelColor} dashColor={r.dashColor} {...r.maj} />
          <Variogram left={MINOR_LEFT} right={MINOR_RIGHT} top={r.top} bottom={r.bottom} title={MINOR_TITLE} tension={r.tension}
            sill={r.sill} sillColor={r.sillColor} sillWidth={r.sillWidth} modelColor={r.modelColor} dashColor={r.dashColor} {...r.min} />
          <div style={{ position: "absolute", left: 394, top: r.gammaY - 20, width: 34, textAlign: "center", font: `34px ${SERIF}`, lineHeight: "40px", color: "#111" }}>γ</div>
          <div style={{ position: "absolute", left: 783, top: r.gammaY - 20, width: 34, textAlign: "center", font: `34px ${SERIF}`, lineHeight: "40px", color: "#111" }}>γ</div>
          <div style={{ position: "absolute", left: 529, top: r.capY - 14, width: 80, textAlign: "center", font: `23px ${SERIF}`, lineHeight: "28px", color: "#000" }}>{r.caption}</div>
        </React.Fragment>
      ))}
    </div>
  );
}
